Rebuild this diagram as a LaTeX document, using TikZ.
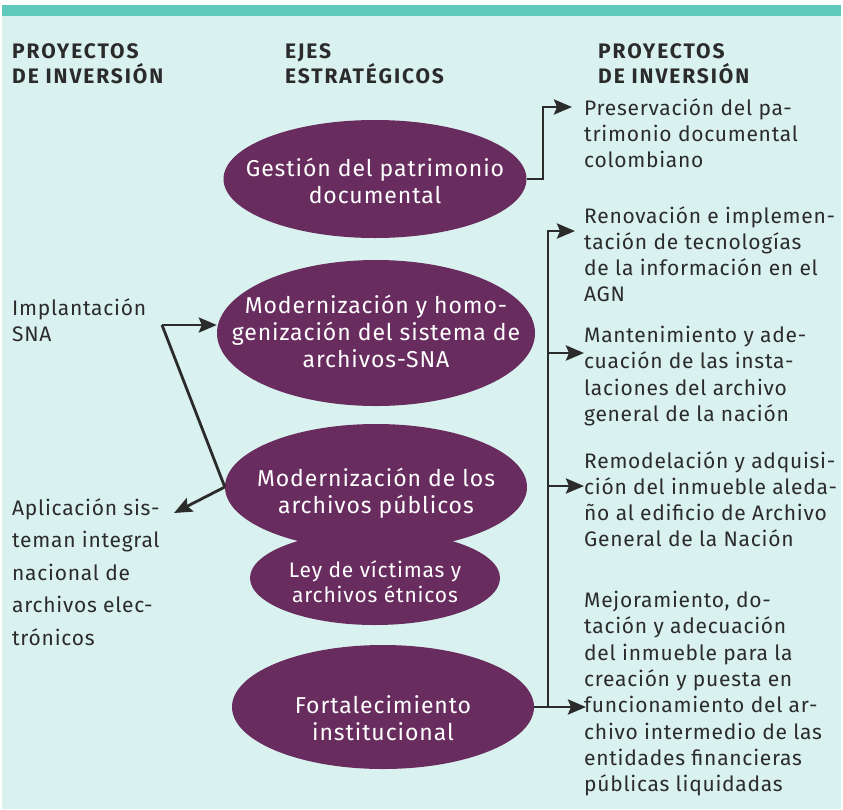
\documentclass[tikz,border=0pt]{standalone}
\usepackage{fontspec}
\setmainfont{Fira Sans}
\usetikzlibrary{arrows.meta, shapes.geometric}
\definecolor{mintbg}{HTML}{D9F2EF}
\definecolor{tealbar}{HTML}{60CABD}
\definecolor{ejepurple}{HTML}{692C5F}
\definecolor{inktext}{HTML}{2B2B2B}

\begin{document}
\begin{tikzpicture}[x=1pt, y=-1pt,
  eje/.style={ellipse, fill=ejepurple, inner sep=0pt},
  ejetxt/.style={text=white, inner sep=0pt, align=center,
              font=\fontsize{23}{27}\selectfont\addfontfeatures{LetterSpace=4}},
  proj/.style={anchor=north west, inner sep=0pt, align=left, text=inktext,
               font=\fontsize{21}{26.3}\selectfont\addfontfeatures{LetterSpace=3.5}},
  head/.style={anchor=north west, inner sep=0pt, align=left, text=inktext,
               font=\fontsize{21}{25}\selectfont\bfseries\addfontfeatures{LetterSpace=9}},
  link/.style={line width=2.8pt, draw=inktext},
  arr/.style={link, -{Stealth[length=18pt, width=15pt, inset=3pt]}},
]
  % fondo
  \useasboundingbox (0,0) rectangle (843,809);
  \fill[white] (0,0) rectangle (843,809);
  \fill[mintbg] (2,5) rectangle (841,809);
  \fill[tealbar] (2,5) rectangle (841,16);

  % encabezados
  \node[head] (hleft) at (12,43) {PROYECTOS\\DE INVERSIÓN};
  \node[head] (hmid) at (285,43) {EJES\\ESTRATÉGICOS};
  \node[head] (hright) at (598,43) {PROYECTOS\\DE INVERSIÓN};

  % ejes estrategicos
  \node[eje, minimum width=303pt, minimum height=118pt] (gestion) at (375,179) {};
  \node[eje, minimum width=318pt, minimum height=146pt] (modsna) at (376,333) {};
  \node[eje, minimum width=250pt, minimum height=94pt] (ley) at (375,578) {};
  \node[eje, minimum width=302pt, minimum height=126pt] (modpub) at (376,487) {};
  \node[eje, minimum width=302pt, minimum height=124pt] (fort) at (383,707) {};

  \node[ejetxt] (gestiontxt) at ([yshift=-2pt]gestion.center) {Gestión del patrimonio\\documental};
  \node[ejetxt] (modsnatxt) at ([yshift=2pt]modsna.center) {Modernización y homo-\\genización del sistema de\\archivos-SNA};
  \node[ejetxt] (modpubtxt) at ([yshift=-6pt]modpub.center) {Modernización de los\\archivos públicos};
  \node[ejetxt, font=\fontsize{21}{25}\selectfont\addfontfeatures{LetterSpace=4}] (leytxt)
    at ([yshift=-4pt]ley.center) {Ley de víctimas y\\archivos étnicos};
  \node[ejetxt] (forttxt) at ([yshift=-11pt]fort.center) {Fortalecimiento\\institucional};

  % proyectos izquierda
  \node[proj] (implant) at (12,298) {Implantación\\SNA};
  \node[proj, font=\fontsize{21}{32.5}\selectfont\addfontfeatures{LetterSpace=3.5}] (aplic) at (12,498)
    {Aplicación sis-\\teman integral\\nacional de\\archivos elec-\\trónicos};

  % proyectos derecha
  \node[proj] (preserv) at (584,98) {Preservación del pa-\\trimonio documental\\colombiano};
  \node[proj] (renov) at (584,206) {Renovación e implemen-\\tación de tecnologías\\de la información en el\\AGN};
  \node[proj] (mant) at (584,326) {Mantenimiento y ade-\\cuación de las insta-\\laciones del archivo\\general de la nación};
  \node[proj] (remod) at (584,451) {Remodelación y adquisi-\\ción del inmueble aleda-\\ño al edificio de Archivo\\General de la Nación};
  \node[proj] (mejora) at (584,591) {Mejoramiento, do-\\tación y adecuación\\del inmueble para la\\creación y puesta en\\funcionamiento del ar-\\chivo intermedio de las\\entidades financieras\\públicas liquidadas};

  % puntos de union
  \coordinate (jleft) at (162,325);
  \coordinate (taplic) at (174,513);
  \coordinate (tpreserv) at (572,107);
  \coordinate (bustop) at (548,231);
  \coordinate (busbot) at (548,707);

  % conectores izquierda
  \draw[arr] (jleft) -- (modsna.west |- jleft);
  \draw[link, line join=miter] (jleft) -- (modpub.west);
  \draw[arr] (modpub.west) -- (taplic);

  % conectores derecha
  \draw[arr, line join=miter] (gestion.east) -- (543,179) |- (tpreserv);
  \draw[link] (busbot) -- (bustop);
  \draw[arr] ([xshift=-1.4pt]bustop) -- (575,231);
  \draw[arr] (548,353) -- (584,353);
  \draw[arr] (548,486) -- (584,486);
  \draw[arr] (fort.east) -- (586,707);
\end{tikzpicture}
\end{document}
